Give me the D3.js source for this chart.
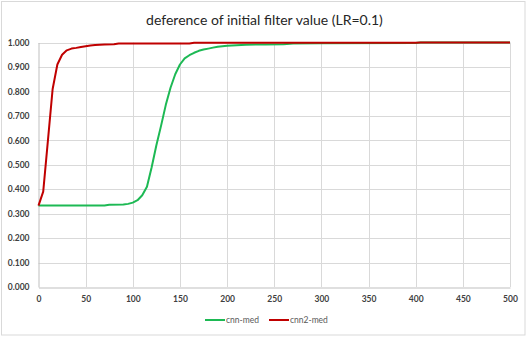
<!DOCTYPE html>
<html>
<head>
<meta charset="utf-8">
<script src="https://cdn.jsdelivr.net/npm/d3@7"></script>
<style>
  html, body { margin: 0; padding: 0; background: #fff; }
  svg { display: block; }
</style>
</head>
<body>
<svg id="chart" width="530" height="337"></svg>
<script>
// Series: epoch (x) and median value (y) for each model
const cnnX = [0, 70, 75, 90, 95, 100, 105, 110, 115, 120, 125, 130, 135, 140, 145, 150, 155, 160, 165, 170, 175, 180, 185, 190, 195, 200, 210, 220, 240, 260, 270, 300, 400, 405, 500];
const cnnY = [0.333, 0.333, 0.336, 0.337, 0.340, 0.345, 0.355, 0.375, 0.410, 0.490, 0.580, 0.660, 0.745, 0.815, 0.870, 0.910, 0.935, 0.948, 0.958, 0.966, 0.971, 0.975, 0.979, 0.983, 0.985, 0.987, 0.989, 0.991, 0.992, 0.993, 0.996, 0.997, 0.998, 1.000, 1.000];

const cnn2X = [0, 5, 10, 15, 20, 25, 30, 35, 40, 45, 50, 55, 60, 70, 80, 85, 160, 165, 400, 405, 500];
const cnn2Y = [0.333, 0.390, 0.600, 0.810, 0.910, 0.950, 0.968, 0.975, 0.978, 0.982, 0.985, 0.988, 0.990, 0.992, 0.993, 0.996, 0.996, 0.999, 0.999, 1.000, 1.000];

const seriesNames = ["cnn-med", "cnn2-med"];
const seriesColors = ["#1db954", "#c00000"];

const xTicks = [0, 50, 100, 150, 200, 250, 300, 350, 400, 450, 500];
const yTicks = [0, 0.1, 0.2, 0.3, 0.4, 0.5, 0.6, 0.7, 0.8, 0.9, 1.0];

const titleText = "deference of initial filter value (LR=0.1)";

const svg = d3.select("#chart");
const font = "Lato, 'Open Sans', sans-serif";

// chart frame
svg.append("rect")
  .attr("x", 1.5).attr("y", 1.5)
  .attr("width", 523.5).attr("height", 333.5)
  .attr("fill", "#fff").attr("stroke", "#d9d9d9").attr("stroke-width", 1);

const plot = { left: 38.5, right: 510, top: 42.5, bottom: 287 };

const x = d3.scaleLinear().domain([0, 500]).range([plot.left, plot.right]);
const y = d3.scaleLinear().domain([0, 1]).range([plot.bottom, plot.top]);

// gridlines
const grid = svg.append("g");
grid.selectAll("line.h").data(yTicks.filter(d => d > 0)).join("line")
  .attr("x1", plot.left).attr("x2", plot.right)
  .attr("y1", d => Math.round(y(d)) + 0.5).attr("y2", d => Math.round(y(d)) + 0.5)
  .attr("stroke", "#d9d9d9").attr("stroke-width", 1);
grid.selectAll("line.v").data(xTicks.filter(d => d > 0)).join("line")
  .attr("x1", d => Math.round(x(d)) + 0.5).attr("x2", d => Math.round(x(d)) + 0.5)
  .attr("y1", plot.top).attr("y2", plot.bottom)
  .attr("stroke", "#d9d9d9").attr("stroke-width", 1);

// axes
const xAxis = d3.axisBottom(x).tickValues(xTicks).tickSize(0).tickPadding(8).tickFormat(d3.format("d"));
const yAxis = d3.axisLeft(y).tickValues(yTicks).tickSize(0).tickPadding(9).tickFormat(d3.format(".3f"));

const gx = svg.append("g").attr("transform", `translate(0,${Math.round(plot.bottom) + 0.5})`).call(xAxis);
const gy = svg.append("g").attr("transform", `translate(${plot.left},0)`).call(yAxis);

[gx, gy].forEach(g => {
  g.select(".domain").attr("stroke", "#bfbfbf").attr("stroke-width", 1);
  g.selectAll("text")
    .attr("font-family", font).attr("font-size", "8.5px")
    .attr("font-weight", "bold").attr("fill", "#404040");
});

// lines
const line = d3.line().x(d => x(d[0])).y(d => y(d[1]));
const series = [
  d3.zip(cnnX, cnnY),
  d3.zip(cnn2X, cnn2Y)
];
svg.append("g").selectAll("path").data(series).join("path")
  .attr("d", line)
  .attr("fill", "none")
  .attr("stroke", (d, i) => seriesColors[i])
  .attr("stroke-width", 2)
  .attr("stroke-linejoin", "round");

// title
svg.append("text")
  .attr("x", 264.5).attr("y", 25)
  .attr("text-anchor", "middle")
  .attr("font-family", font).attr("font-size", "14px")
  .attr("fill", "#262626")
  .text(titleText);

// legend
const legendX = [205, 269];
const legend = svg.append("g").selectAll("g").data(seriesNames).join("g")
  .attr("transform", (d, i) => `translate(${legendX[i]},320)`);
legend.append("line")
  .attr("x1", 0).attr("x2", 20).attr("y1", 0).attr("y2", 0)
  .attr("stroke", (d, i) => seriesColors[i]).attr("stroke-width", 2);
legend.append("text")
  .attr("x", 21).attr("y", 3)
  .attr("font-family", font).attr("font-size", "8.5px")
  .attr("fill", "#595959")
  .text(d => d);
</script>
</body>
</html>
